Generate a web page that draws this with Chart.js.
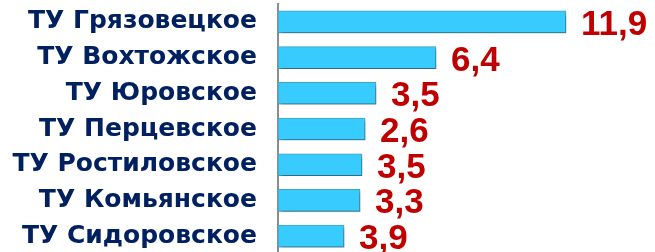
<!DOCTYPE html>
<html>
<head>
<meta charset="utf-8">
<script src="https://cdn.jsdelivr.net/npm/chart.js@4/dist/chart.umd.min.js"></script>
<style>
html,body{margin:0;padding:0;background:#fff;overflow:hidden;}
#wrap{position:relative;width:655px;height:254px;}
</style>
</head>
<body>
<div id="wrap"><canvas id="c"></canvas></div>
<script>
const categories = ['ТУ Грязовецкое','ТУ Вохтожское','ТУ Юровское','ТУ Перцевское','ТУ Ростиловское','ТУ Комьянское','ТУ Сидоровское'];
// bar lengths as drawn in the picture
const barValues = [11.9, 6.53, 4.05, 3.6, 3.47, 3.39, 2.73];
// value labels printed next to the bars
const valueLabels = ['11,9','6,4','3,5','2,6','3,5','3,3','3,9'];
const axisMax = 15.58;

const shadowPlugin = {
  id:'barShadow',
  beforeDatasetsDraw(chart){
    const ctx = chart.ctx;
    ctx.save();
    ctx.shadowColor = 'rgba(0,0,0,0.4)';
    ctx.shadowBlur = 4;
    ctx.shadowOffsetX = 2;
    ctx.shadowOffsetY = 3;
  },
  afterDatasetsDraw(chart){
    chart.ctx.restore();
  }
};

const labelPlugin = {
  id:'valueLabels',
  afterDraw(chart){
    const ctx = chart.ctx;
    const meta = chart.getDatasetMeta(0);
    ctx.save();
    ctx.font = 'bold 35px "Liberation Sans", Arial, sans-serif';
    ctx.fillStyle = '#C00000';
    ctx.textAlign = 'left';
    ctx.textBaseline = 'alphabetic';
    meta.data.forEach((bar, i) => {
      ctx.fillText(valueLabels[i], bar.x + 15, bar.y + 13);
    });
    ctx.restore();
  }
};

new Chart(document.getElementById('c'), {
  type:'bar',
  data:{
    labels: categories,
    datasets:[{
      data: barValues,
      backgroundColor:'#38CBFE',
      borderColor:'#45A6C4',
      borderWidth:1,
      borderSkipped:false,
      barThickness:22
    }]
  },
  options:{
    indexAxis:'y',
    responsive:true,
    maintainAspectRatio:false,
    animation:false,
    devicePixelRatio:1,
    layout:{padding:{top:4,right:0,bottom:0,left:0}},
    plugins:{legend:{display:false},tooltip:{enabled:false}},
    scales:{
      x:{display:false,min:0,max:axisMax},
      y:{
        afterFit(scale){ scale.width = 278; scale.paddingTop = 0; scale.paddingBottom = 0; },
        grid:{display:false,drawTicks:false},
        border:{display:true,color:'#8C8C8C',width:2},
        ticks:{
          color:'#002060',
          padding:21,
          font:{family:'"DejaVu Sans", sans-serif',weight:'bold',size:25}
        }
      }
    }
  },
  plugins:[shadowPlugin,labelPlugin]
});
</script>
</body>
</html>
